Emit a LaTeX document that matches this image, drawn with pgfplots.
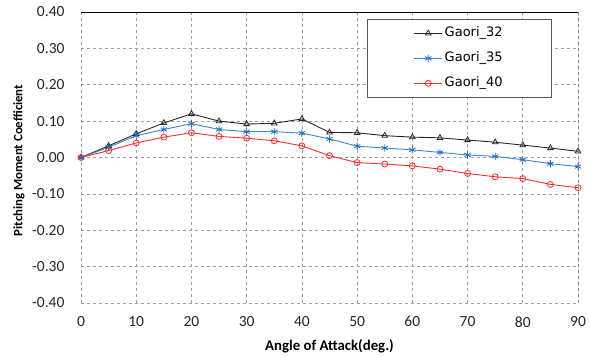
\documentclass[border=0pt]{standalone}
\usepackage{fontspec}
\setmainfont{Carlito}
\newfontfamily\dejavu{DejaVu Sans}
\usepackage{pgfplots}
\pgfplotsset{compat=1.18}
\definecolor{cblue}{RGB}{60,135,205}
\definecolor{cbluem}{RGB}{30,110,200}
\definecolor{cred}{RGB}{240,50,50}
\definecolor{cblack}{RGB}{40,40,40}
\begin{document}
\begin{tikzpicture}
\begin{axis}[
  scale only axis,
  width=497pt, height=291pt,
  xmin=0, xmax=90, ymin=-0.4, ymax=0.4,
  xtick={0,10,...,90},
  ytick={-0.4,-0.3,...,0.4},
  major tick length=0pt,
  grid=major,
  grid style={dashed, gray!75, line width=0.6pt},
  axis line style={draw=none},
  /pgf/number format/assume math mode=true,
  yticklabel={\pgfmathprintnumber[fixed,fixed zerofill,precision=2]{\tick}},
  ticklabel style={font=\fontsize{15.5}{18}\selectfont, text=black!85},
  xticklabel style={yshift=-10pt},
  yticklabel style={xshift=-13pt},
  xlabel={Angle of Attack(deg.)},
  ylabel={Pitching Moment Coefficient},
  every axis x label/.style={at={(rel axis cs:0.5,0)}, anchor=center, yshift=-43pt, font=\fontsize{14.8}{17}\selectfont\bfseries},
  every axis y label/.style={at={(rel axis cs:0,0.5)}, rotate=90, anchor=center, yshift=62pt, xshift=-3pt, font=\fontsize{12.8}{15}\selectfont\bfseries},
  legend style={at={(1,1)}, anchor=north east, xshift=-26pt, yshift=-7pt,
    draw=gray!70!black, line width=0.6pt, inner xsep=47pt, inner ysep=1.5pt,
    font=\dejavu\fontsize{13}{15}\selectfont, nodes={inner xsep=2pt, inner ysep=6pt, text height=10pt, text depth=3pt}},
  legend cell align=left,
  legend image code/.code={\draw[#1] (0pt,0pt) -- (28pt,0pt); \draw[#1,mark repeat=2,mark phase=2] plot coordinates {(0pt,0pt) (14pt,0pt) (28pt,0pt)};},
]
\addplot[cblack, line width=0.9pt, mark=triangle, mark size=3.2pt, mark options={solid, line width=0.8pt}] coordinates {
(0,0)(5,0.032)(10,0.065)(15,0.095)(20,0.12)(25,0.10)(30,0.092)(35,0.094)(40,0.106)(45,0.069)(50,0.068)(55,0.060)(60,0.056)(65,0.054)(70,0.048)(75,0.042)(80,0.034)(85,0.026)(90,0.017)};
\addlegendentry{Gaori\_32}
\addplot[cblue, line width=0.9pt, mark=asterisk, mark size=3.6pt, mark options={solid, cbluem, line width=0.8pt}] coordinates {
(0,0)(5,0.028)(10,0.06)(15,0.077)(20,0.093)(25,0.077)(30,0.071)(35,0.071)(40,0.067)(45,0.051)(50,0.031)(55,0.026)(60,0.021)(65,0.014)(70,0.007)(75,0.003)(80,-0.006)(85,-0.017)(90,-0.025)};
\addlegendentry{Gaori\_35}
\addplot[cred, line width=0.9pt, mark=o, mark size=3pt, mark options={solid, line width=0.8pt}] coordinates {
(0,0)(5,0.019)(10,0.04)(15,0.056)(20,0.068)(25,0.058)(30,0.053)(35,0.046)(40,0.032)(45,0.005)(50,-0.014)(55,-0.018)(60,-0.023)(65,-0.032)(70,-0.044)(75,-0.053)(80,-0.058)(85,-0.074)(90,-0.083)};
\addlegendentry{Gaori\_40}
\draw[black, line width=0.9pt] (rel axis cs:0,1) -- (rel axis cs:1,1) -- (rel axis cs:1,0);
\draw[gray!60!black, line width=0.9pt] (rel axis cs:0,0) -- (rel axis cs:1,0);
\end{axis}
\pgfresetboundingbox
\path[use as bounding box] ([shift={(-81pt,-54pt)}]current axis.south west) rectangle ([shift={(12pt,12pt)}]current axis.north east);
\end{tikzpicture}
\end{document}
